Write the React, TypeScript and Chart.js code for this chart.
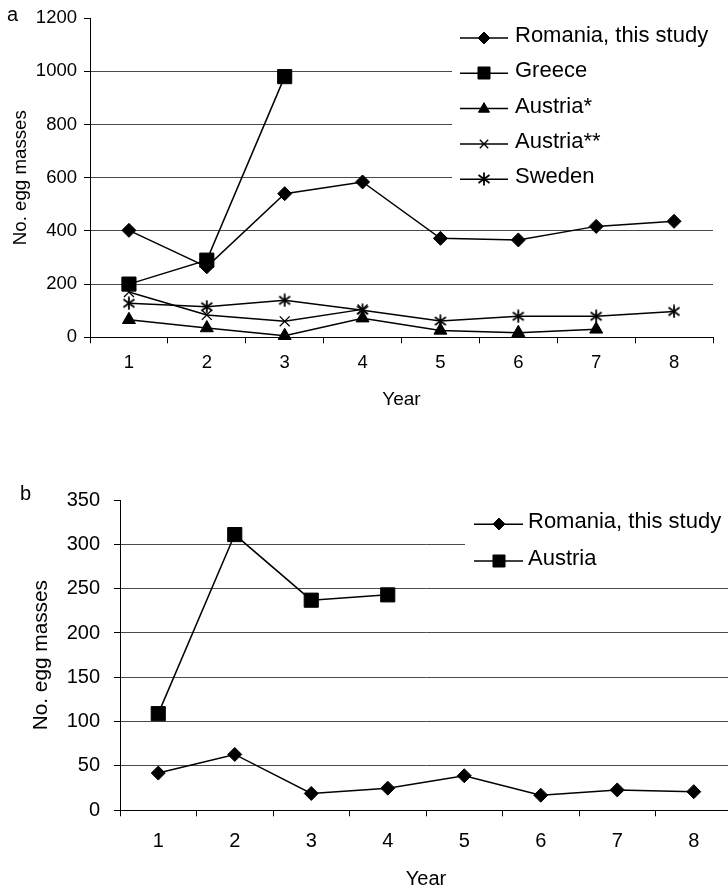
import React, { useEffect, useRef } from 'react';
import { Chart, registerables } from 'chart.js';
import { drawPoint } from 'chart.js/helpers';

Chart.register(...registerables);

const FONT = "'Liberation Sans', Arial, Helvetica, sans-serif";

// ---------- Data: panel a ----------
const yearsA = ['1', '2', '3', '4', '5', '6', '7', '8'];
const romaniaA = [402, 265, 540, 584, 372, 366, 417, 436];
const greeceA = [200, 290, 980, null, null, null, null, null];
const austriaStarA = [66, 35, 6, 72, 26, 17, 30, null];
const austriaStarStarA = [170, 84, 60, 105, null, null, null, null];
const swedenA = [128, 115, 139, 102, 61, 79, 79, 97];
const yMaxA = 1200;
const yStepA = 200;

// ---------- Data: panel b ----------
const yearsB = ['1', '2', '3', '4', '5', '6', '7', '8'];
const romaniaB = [42, 63, 19, 25, 39, 17, 23, 21];
const austriaB = [109, 311, 237, 243, null, null, null, null];
const yMaxB = 350;
const yStepB = 50;

const yTitle = 'No. egg masses';
const xTitle = 'Year';

function makeAsterisk(): HTMLCanvasElement {
  const c = document.createElement('canvas');
  c.width = 14;
  c.height = 14;
  const g = c.getContext('2d')!;
  g.strokeStyle = '#000';
  g.lineWidth = 1.8;
  g.beginPath();
  g.moveTo(7, 0.5);
  g.lineTo(7, 13.5);
  g.moveTo(1.5, 3);
  g.lineTo(12.5, 11);
  g.moveTo(1.5, 11);
  g.lineTo(12.5, 3);
  g.stroke();
  return c;
}

const boxLegend = {
  id: 'boxLegend',
  afterDraw(chart: any, _args: any, o: any) {
    const ctx = chart.ctx;
    ctx.save();
    ctx.fillStyle = '#fff';
    ctx.fillRect(o.x, o.y, o.w, o.h);
    chart.data.datasets.forEach((ds: any, i: number) => {
      const y = o.row0 + i * o.gap;
      ctx.strokeStyle = '#000';
      ctx.lineWidth = ds.borderWidth;
      ctx.beginPath();
      ctx.moveTo(o.lx1, y);
      ctx.lineTo(o.lx2, y);
      ctx.stroke();
      ctx.fillStyle = '#000';
      ctx.lineWidth = ds.pointBorderWidth;
      drawPoint(
        ctx,
        { pointStyle: ds.pointStyle, radius: ds.pointRadius * o.scale, rotation: 0, borderWidth: ds.pointBorderWidth },
        Math.round((o.lx1 + o.lx2) / 2),
        Math.round(y)
      );
      ctx.fillStyle = '#000';
      ctx.font = `${o.fontSize}px ${FONT}`;
      ctx.textBaseline = 'middle';
      ctx.textAlign = 'left';
      ctx.fillText(ds.label, o.tx, y + o.dy);
    });
    ctx.restore();
  },
};

const panelLabel = {
  id: 'panelLabel',
  afterDraw(chart: any, _args: any, o: any) {
    const ctx = chart.ctx;
    ctx.save();
    ctx.fillStyle = '#000';
    ctx.font = `${o.fontSize}px ${FONT}`;
    ctx.textBaseline = 'alphabetic';
    ctx.textAlign = 'left';
    ctx.fillText(o.text, o.x, o.y);
    ctx.restore();
  },
};

function buildConfig(p: any) {
  return {
    type: 'line',
    data: { labels: p.labels, datasets: p.datasets },
    plugins: [boxLegend, panelLabel],
    options: {
      responsive: false,
      animation: false,
      events: [],
      layout: { padding: p.padding },
      plugins: {
        legend: { display: false },
        tooltip: { enabled: false },
        title: { display: false },
        boxLegend: p.legend,
        panelLabel: p.panel,
      },
      scales: {
        x: {
          type: 'category',
          offset: true,
          grid: {
            display: true,
            offset: true,
            drawOnChartArea: false,
            drawTicks: true,
            tickLength: 6,
            tickColor: '#000',
            tickWidth: 1,
          },
          border: { display: true, color: '#000', width: 1 },
          ticks: {
            color: '#000',
            font: { family: FONT, size: p.tickFont },
            padding: p.xTickPad,
            maxRotation: 0,
            autoSkip: false,
          },
          title: {
            display: true,
            text: xTitle,
            color: '#000',
            font: { family: FONT, size: p.xTitleFont },
            padding: { top: 0, bottom: p.xTitlePad },
          },
          afterFit: (s: any) => {
            s.height = p.xHeight;
          },
        },
        y: {
          type: 'linear',
          min: 0,
          max: p.yMax,
          grid: {
            color: (c: any) => (c.tick && c.tick.value === p.yMax ? 'rgba(0,0,0,0)' : '#4a4a4a'),
            lineWidth: 1,
            drawTicks: true,
            tickLength: 6,
            tickColor: '#000',
            tickWidth: 1,
          },
          border: { display: true, color: '#000', width: 1 },
          ticks: {
            stepSize: p.yStep,
            color: '#000',
            font: { family: FONT, size: p.tickFont },
            padding: p.yTickPad,
            callback: (v: any) => String(v),
          },
          title: {
            display: true,
            text: yTitle,
            color: '#000',
            font: { family: FONT, size: p.yTitleFont },
            padding: { top: p.yTitlePad, bottom: 0 },
          },
          afterFit: (s: any) => {
            s.width = p.yWidth;
          },
        },
      },
    },
  };
}

function ds(label: string, data: any[], pointStyle: any, radius: number, pbw = 1) {
  return {
    label,
    data,
    borderColor: '#000',
    backgroundColor: '#000',
    borderWidth: 1.5,
    pointStyle,
    pointRadius: radius,
    pointBackgroundColor: '#000',
    pointBorderColor: '#000',
    pointBorderWidth: pbw,
    tension: 0,
    clip: false,
    spanGaps: false,
  };
}

export default function App() {
  const refA = useRef<HTMLCanvasElement>(null);
  const refB = useRef<HTMLCanvasElement>(null);

  useEffect(() => {
    const asterisk = makeAsterisk();

    const cfgA = buildConfig({
      labels: yearsA,
      datasets: [
        ds('Romania, this study', romaniaA, 'rectRot', 7),
        ds('Greece', greeceA, 'rect', 10),
        ds('Austria*', austriaStarA, 'triangle', 7.5),
        ds('Austria**', austriaStarStarA, 'crossRot', 7, 1.3),
        ds('Sweden', swedenA, asterisk, 7, 1.3),
      ],
      padding: { left: 0, top: 16.3, right: 15, bottom: 0 },
      yMax: yMaxA,
      yStep: yStepA,
      tickFont: 18.5,
      xTickPad: 9,
      yTickPad: 7,
      xTitleFont: 19,
      xTitlePad: 38.6,
      yTitleFont: 18.7,
      yTitlePad: 10,
      xHeight: 112.7,
      yWidth: 90,
      legend: {
        x: 452, y: 8, w: 300, h: 192,
        row0: 38, gap: 35.3, lx1: 460, lx2: 508, tx: 515, dy: -2,
        fontSize: 22, scale: 0.85,
      },
      panel: { text: 'a', x: 7, y: 21, fontSize: 20 },
    });

    const cfgB = buildConfig({
      labels: yearsB,
      datasets: [
        ds('Romania, this study', romaniaB, 'rectRot', 7),
        ds('Austria', austriaB, 'rect', 10),
      ],
      padding: { left: 0, top: 40, right: 28, bottom: 0 },
      yMax: yMaxB,
      yStep: yStepB,
      tickFont: 20,
      xTickPad: 12.7,
      yTickPad: 14,
      xTitleFont: 20,
      xTitlePad: 19,
      yTitleFont: 20.8,
      yTitlePad: 29,
      xHeight: 99.7,
      yWidth: 120,
      legend: {
        x: 465, y: 40, w: 300, h: 82,
        row0: 64.3, gap: 36.7, lx1: 474, lx2: 523, tx: 528, dy: -2,
        fontSize: 22, scale: 0.85,
      },
      panel: { text: 'b', x: 20, y: 40, fontSize: 20 },
    });

    const chartA = new Chart(refA.current as any, cfgA as any);
    const chartB = new Chart(refB.current as any, cfgB as any);
    return () => {
      chartA.destroy();
      chartB.destroy();
    };
  }, []);

  return (
    <div
      style={{
        position: 'absolute',
        left: 0,
        top: 0,
        width: 728,
        height: 889,
        overflow: 'hidden',
        background: '#fff',
      }}
    >
      <canvas
        ref={refA}
        width={728}
        height={450}
        style={{ position: 'absolute', left: 0, top: 0, width: 728, height: 450 }}
      />
      <canvas
        ref={refB}
        width={760}
        height={450}
        style={{ position: 'absolute', left: 0, top: 460, width: 760, height: 450 }}
      />
    </div>
  );
}
